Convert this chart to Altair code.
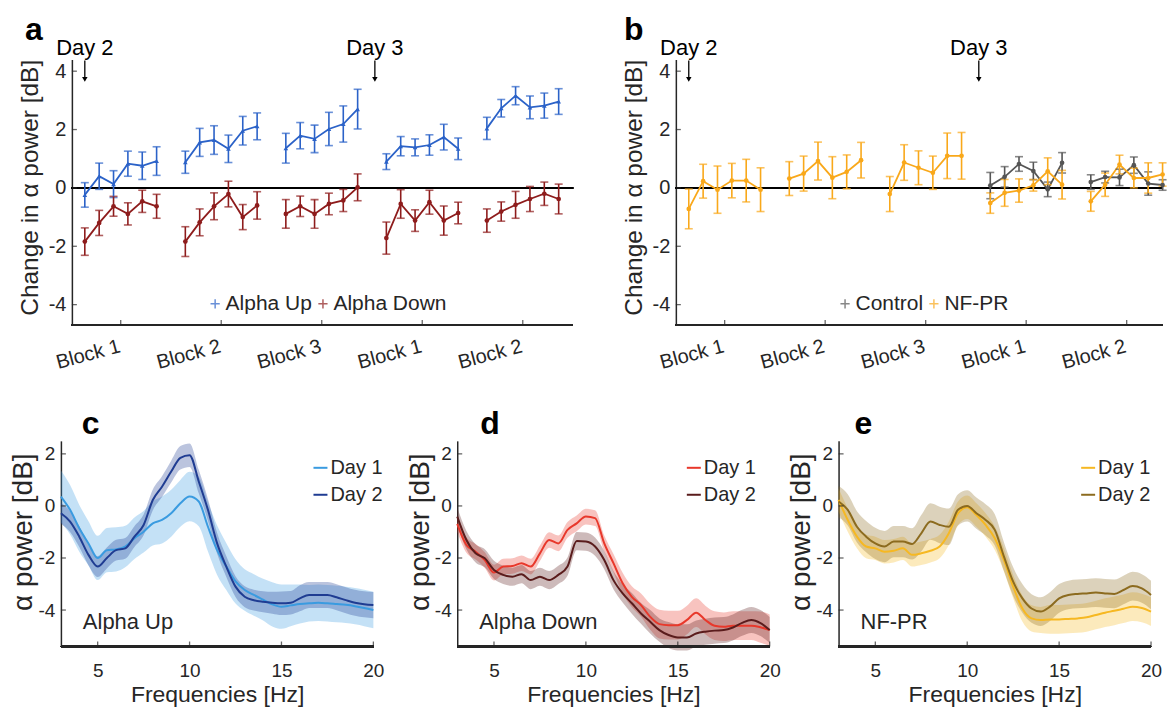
import json
import altair as alt
import pandas as pd

FONT = "Liberation Sans"
INK = "#262626"

# ---------------- panels a, b : change in alpha power per session ----------------
session_pos = [0, 1, 2, 3, 4, 5, 7, 8, 9, 10, 11, 12, 14, 15, 16, 17, 18, 19,
               21, 22, 23, 24, 25, 26, 28, 29, 30, 31, 32, 33]
session_block = (["d2b1"] * 6 + ["d2b2"] * 6 + ["d2b3"] * 6 + ["d3b1"] * 6 + ["d3b2"] * 6)
block_ticks = [2.5, 9.5, 16.5, 23.5, 30.5]
block_labels = ["Block 1", "Block 2", "Block 3", "Block 1", "Block 2"]
day_labels = ["Day 2", "Day 3"]
day_pos = [0, 20.2]

up_mean = [-0.24, 0.40, 0.13, 0.83, 0.76, 0.92, 0.88, 1.56, 1.64, 1.34, 1.96, 2.11,
           1.36, 1.79, 1.68, 2.02, 2.19, 2.70, 0.90, 1.43, 1.39, 1.47, 1.74, 1.34,
           2.04, 2.73, 3.16, 2.76, 2.82, 2.96]
up_err = [0.42, 0.45, 0.46, 0.43, 0.47, 0.49, 0.38, 0.48, 0.49, 0.47, 0.49, 0.46,
          0.51, 0.45, 0.47, 0.57, 0.62, 0.68, 0.27, 0.33, 0.29, 0.35, 0.44, 0.37,
          0.38, 0.30, 0.31, 0.39, 0.43, 0.44]
down_mean = [-1.84, -1.20, -0.63, -0.89, -0.46, -0.63, -1.84, -1.18, -0.63, -0.21, -1.00, -0.60,
             -0.89, -0.63, -0.89, -0.55, -0.43, 0.02, -1.72, -0.55, -1.12, -0.49, -1.12, -0.86,
             -1.12, -0.81, -0.58, -0.38, -0.20, -0.38]
down_err = [0.47, 0.43, 0.34, 0.38, 0.38, 0.41, 0.51, 0.46, 0.46, 0.44, 0.43, 0.47,
            0.49, 0.35, 0.49, 0.37, 0.38, 0.46, 0.55, 0.49, 0.37, 0.41, 0.50, 0.37,
            0.40, 0.33, 0.46, 0.43, 0.40, 0.51]
nf_mean = [-0.72, 0.23, -0.06, 0.25, 0.25, -0.06, 0.32, 0.49, 0.92, 0.35, 0.55, 0.95,
           -0.21, 0.87, 0.69, 0.52, 1.10, 1.10, -0.52, -0.17, -0.09, 0.09, 0.57, 0.11,
           -0.46, 0.11, 0.80, 0.34, 0.34, 0.46]
nf_err = [0.68, 0.58, 0.81, 0.59, 0.73, 0.75, 0.58, 0.60, 0.65, 0.72, 0.58, 0.61,
          0.60, 0.61, 0.58, 0.57, 0.78, 0.80, 0.35, 0.46, 0.40, 0.20, 0.46, 0.49,
          0.34, 0.40, 0.32, 0.34, 0.52, 0.40]
ctrl_mean = [0.08, 0.38, 0.82, 0.58, -0.05, 0.86, 0.20, 0.37, 0.36, 0.78, 0.15, 0.10]
ctrl_err = [0.45, 0.35, 0.25, 0.30, 0.25, 0.35, 0.25, 0.20, 0.28, 0.28, 0.40, 0.18]
ctrl_pos = session_pos[18:]
ctrl_block = session_block[18:]

# ---------------- panels c, d, e : alpha power spectra ----------------
freq = [3.0, 3.5, 4.0, 4.5, 5.0, 5.5, 6.0, 6.5, 7.0, 7.5, 8.0, 8.5, 9.0, 9.5, 10.0, 10.5,
        11.0, 11.5, 12.0, 12.5, 13.0, 13.5, 14.0, 14.5, 15.0, 15.5, 16.0, 16.5, 17.0, 17.5,
        18.0, 18.5, 19.0, 19.5, 20.0]

up_day1 = [0.36, -0.15, -0.86, -1.44, -2.00, -1.70, -1.67, -1.56, -1.24, -0.99, -0.67, -0.54,
           -0.28, 0.10, 0.36, 0.17, -0.80, -1.70, -2.33, -2.90, -3.23, -3.42, -3.60, -3.78,
           -3.87, -3.82, -3.77, -3.74, -3.72, -3.74, -3.77, -3.80, -3.85, -3.92, -4.00]
up_day1_err = [1.00, 0.95, 0.90, 0.85, 0.85, 0.85, 0.85, 0.80, 0.80, 0.80, 0.85, 0.90,
               0.90, 0.90, 0.95, 0.95, 0.95, 0.95, 0.90, 0.85, 0.80, 0.80, 0.80, 0.85,
               0.85, 0.80, 0.75, 0.70, 0.70, 0.70, 0.70, 0.70, 0.70, 0.70, 0.70]
up_day2 = [-0.28, -0.60, -1.18, -1.88, -2.33, -2.00, -1.70, -1.63, -1.18, -0.73, 0.23, 0.74,
           1.32, 1.85, 1.95, 0.94, -0.15, -1.44, -2.33, -3.10, -3.49, -3.62, -3.68, -3.72,
           -3.74, -3.72, -3.55, -3.42, -3.42, -3.42, -3.51, -3.62, -3.72, -3.78, -3.81]
up_day2_err = [0.40, 0.40, 0.40, 0.40, 0.40, 0.40, 0.40, 0.40, 0.40, 0.40, 0.40, 0.40,
               0.42, 0.45, 0.45, 0.45, 0.42, 0.40, 0.40, 0.40, 0.40, 0.40, 0.40, 0.42,
               0.45, 0.45, 0.50, 0.50, 0.50, 0.50, 0.50, 0.50, 0.50, 0.50, 0.50]

down_day1 = [-0.69, -1.50, -1.76, -2.08, -2.56, -2.33, -2.31, -2.20, -2.33, -1.82, -1.31, -1.44,
             -0.92, -0.67, -0.41, -0.47, -1.44, -2.20, -2.97, -3.49, -3.81, -4.26, -4.54, -4.58,
             -4.58, -4.38, -4.10, -4.38, -4.60, -4.64, -4.60, -4.60, -4.60, -4.66, -4.77]
down_day1_err = [0.30, 0.30, 0.30, 0.30, 0.30, 0.30, 0.30, 0.30, 0.30, 0.30, 0.30, 0.30,
                 0.30, 0.30, 0.30, 0.30, 0.30, 0.35, 0.40, 0.40, 0.45, 0.50, 0.55, 0.55,
                 0.55, 0.55, 0.55, 0.55, 0.55, 0.55, 0.55, 0.55, 0.55, 0.60, 0.60]
down_day2 = [-0.41, -1.31, -1.82, -2.01, -2.46, -2.65, -2.72, -2.62, -2.85, -2.72, -2.85, -2.65,
             -2.33, -1.35, -1.37, -1.56, -2.08, -2.85, -3.36, -3.74, -4.13, -4.45, -4.77, -4.96,
             -5.05, -5.05, -4.90, -4.83, -4.79, -4.77, -4.67, -4.49, -4.38, -4.50, -4.77]
down_day2_err = [0.35, 0.35, 0.35, 0.35, 0.35, 0.35, 0.35, 0.35, 0.35, 0.35, 0.35, 0.35,
                 0.35, 0.35, 0.35, 0.35, 0.35, 0.35, 0.35, 0.40, 0.40, 0.45, 0.45, 0.50,
                 0.50, 0.50, 0.50, 0.50, 0.50, 0.50, 0.50, 0.50, 0.50, 0.50, 0.50]

nf_day1 = [0.23, -0.54, -1.18, -1.56, -1.63, -1.76, -1.72, -1.63, -1.88, -1.82, -1.72, -1.56,
           -1.05, -0.28, -0.05, -0.35, -0.73, -1.24, -2.08, -3.10, -3.94, -4.32, -4.38, -4.36,
           -4.36, -4.34, -4.32, -4.28, -4.19, -4.10, -4.03, -3.95, -3.87, -3.92, -4.06]
nf_day1_err = [0.45, 0.45, 0.45, 0.45, 0.45, 0.45, 0.45, 0.45, 0.45, 0.45, 0.45, 0.45,
               0.45, 0.45, 0.45, 0.45, 0.45, 0.45, 0.45, 0.45, 0.50, 0.50, 0.50, 0.55,
               0.55, 0.55, 0.55, 0.55, 0.55, 0.55, 0.55, 0.55, 0.55, 0.55, 0.55]
nf_day2 = [0.17, -0.15, -0.80, -1.18, -1.44, -1.56, -1.37, -1.37, -1.46, -1.05, -0.60, -0.73,
           -0.80, -0.15, 0.00, -0.28, -0.54, -0.92, -1.95, -2.91, -3.55, -3.94, -4.06, -3.87,
           -3.55, -3.42, -3.38, -3.36, -3.33, -3.36, -3.38, -3.23, -3.08, -3.17, -3.42]
nf_day2_err = [0.60, 0.60, 0.60, 0.60, 0.60, 0.60, 0.60, 0.60, 0.60, 0.70, 0.70, 0.70,
               0.70, 0.60, 0.60, 0.60, 0.60, 0.60, 0.55, 0.55, 0.55, 0.55, 0.55, 0.55,
               0.55, 0.55, 0.55, 0.55, 0.55, 0.55, 0.55, 0.55, 0.55, 0.55, 0.55]

group_labels = ["Alpha Up", "Alpha Down", "NF-PR"]
day_names = ["Day 1", "Day 2"]


# ---------------- helpers ----------------
def session_rows(name, pos, block, mean, err):
    return pd.DataFrame({
        "series": [name] * len(pos), "pos": pos, "block": block, "mean": mean,
        "lo": [m - e for m, e in zip(mean, err)], "hi": [m + e for m, e in zip(mean, err)],
    })


block_expr = "{}[indexof({}, datum.value)]".format(json.dumps(block_labels), json.dumps(block_ticks))
num_expr = "'' + datum.value"
PX_SESSION = 502 / 34.9     # pixels per session step
PX_HZ = 313 / 17.0          # pixels per Hz


def session_panel(df, names, colors, shapes, width, x0, x1, letter, legend_x, letter_dx, lead=0):
    H = 266
    xs = alt.Scale(domain=[x0 - lead / PX_SESSION, x1], nice=False, zero=False)
    ys = alt.Scale(domain=[-4.7, 4.4], nice=False, zero=False)
    x_axis = alt.Axis(values=block_ticks, labelExpr=block_expr, title=None, labelAngle=345,
                      labelAlign="right", labelBaseline="top", labelPadding=11, labelOffset=-4,
                      labelFontSize=20, tickSize=0, labelOverlap=False, domain=False)
    y_axis = alt.Axis(values=[-4, -2, 0, 2, 4], labelExpr=num_expr, title="Change in α power [dB]",
                      titleX=-41, titleY=H / 2 - 5, titleAngle=270, titleAlign="center",
                      titleBaseline="middle", titleFontSize=24.5, labelFontSize=20, labelPadding=6,
                      tickSize=0, offset=-lead)
    X = alt.X("pos:Q", scale=xs, axis=x_axis)
    legend = alt.Legend(title=None, orient="none", legendX=legend_x + lead, legendY=234,
                        direction="horizontal", symbolType="M-1,0H1M0,-1V1", symbolSize=85,
                        symbolStrokeWidth=1.5, labelFontSize=21, labelColor=INK,
                        columnPadding=-6, labelOffset=0)
    C = alt.Color("series:N", scale=alt.Scale(domain=names, range=colors), legend=legend)
    Ym = alt.Y("mean:Q", scale=ys, axis=y_axis)
    base = alt.Chart(df)
    lines = base.mark_line(strokeWidth=1.8).encode(x=X, y=Ym, color=C, detail="block:N")
    bars = base.mark_errorbar(ticks={"size": 8, "thickness": 1.6}, thickness=1.6).encode(
        x=X, y=alt.Y("lo:Q", scale=ys, axis=y_axis), y2="hi:Q", color=C)
    pts = [base.transform_filter(alt.datum.series == nm).mark_point(
        shape=sh, filled=True, size=22, opacity=1).encode(x=X, y=Ym, color=C)
        for nm, sh in zip(names, shapes)]
    zero = alt.Chart(df).mark_rule(color="black", strokeWidth=2).encode(
        x=alt.XDatum(x0, type="quantitative", scale=xs, axis=x_axis),
        x2=alt.X2Datum(x1),
        y=alt.YDatum(0, type="quantitative", scale=ys, axis=y_axis))
    xline = alt.Chart(df).mark_rule(color=INK, strokeWidth=1.5).encode(
        x=alt.XDatum(x0, type="quantitative", scale=xs, axis=x_axis),
        x2=alt.X2Datum(x1), y=alt.value(H))
    days = alt.Chart(pd.DataFrame({"label": day_labels, "pos": day_pos}))
    arrow = days.mark_rule(color="black", strokeWidth=1.3).encode(
        x=X, y=alt.value(1), y2=alt.value(18))
    head = days.mark_point(shape="triangle-down", filled=True, size=30, color="black", opacity=1).encode(
        x=X, y=alt.value(20))
    text = days.mark_text(fontSize=22, font=FONT, color="black", baseline="alphabetic").encode(
        x=X, y=alt.value(-5), text="label:N")
    xt = alt.Chart(pd.DataFrame({"t": block_ticks})).mark_tick(color=INK, thickness=1.3, size=5).encode(
        x=alt.X("t:Q", scale=xs, axis=x_axis), y=alt.value(H - 2.5))
    yt = alt.Chart(pd.DataFrame({"t": [-4, -2, 0, 2, 4]})).mark_tick(color=INK, thickness=1.3, size=5).encode(
        y=alt.Y("t:Q", scale=ys, axis=y_axis), x=alt.value(lead + 2.5))
    return alt.layer(xline, zero, xt, yt, lines, bars, *pts, arrow, head, text).properties(
        width=width + lead, height=H,
        title=alt.TitleParams(letter, anchor="start", frame="group", dx=letter_dx + lead, dy=10,
                              fontSize=32, fontWeight="bold", color="black", font=FONT, offset=0))


def spectrum_panel(d1, e1, d2, e2, colors, letter, group_label, legend_x, letter_dx, lead=0):
    H = 206
    n = len(freq)
    df = pd.DataFrame({
        "freq": freq + freq, "val": d1 + d2,
        "lo": [v - e for v, e in zip(d1, e1)] + [v - e for v, e in zip(d2, e2)],
        "hi": [v + e for v, e in zip(d1, e1)] + [v + e for v, e in zip(d2, e2)],
        "day": [day_names[0]] * n + [day_names[1]] * n,
        "band": ["band " + day_names[0]] * n + ["band " + day_names[1]] * n,
    })
    xs = alt.Scale(domain=[3 - lead / PX_HZ, 20], nice=False, zero=False)
    ys = alt.Scale(domain=[-5.4, 2.5], nice=False, zero=False)
    x_axis = alt.Axis(values=[5, 10, 15, 20], labelExpr=num_expr, title="Frequencies [Hz]",
                      titleX=lead + 313 / 2, titleY=55, titleBaseline="alphabetic",
                      titleFontSize=23, labelFontSize=19, labelPadding=15, tickSize=0,
                      labelFlush=False, domain=False)
    y_axis = alt.Axis(values=[-4, -2, 0, 2], labelExpr=num_expr, title="α power [dB]",
                      titleX=-37, titleY=H / 2 - 12, titleAngle=270, titleAlign="center",
                      titleBaseline="middle", titleFontSize=28, labelFontSize=19, labelPadding=6,
                      tickSize=0, offset=-lead)
    X = alt.X("freq:Q", scale=xs, axis=x_axis)
    legend = alt.Legend(title=None, orient="none", legendX=legend_x + lead, legendY=17,
                        symbolType="stroke", symbolSize=196, symbolStrokeWidth=2,
                        labelFontSize=20, labelColor=INK, rowPadding=7, labelOffset=0)
    base = alt.Chart(df)
    band = base.mark_area(fillOpacity=0.3, interpolate="monotone").encode(
        x=X, y=alt.Y("lo:Q", scale=ys, axis=y_axis), y2="hi:Q",
        fill=alt.Fill("band:N", scale=alt.Scale(domain=["band " + d for d in day_names], range=colors),
                      legend=None))
    line = base.mark_line(strokeWidth=2, interpolate="monotone").encode(
        x=X, y=alt.Y("val:Q", scale=ys, axis=y_axis),
        color=alt.Color("day:N", scale=alt.Scale(domain=day_names, range=colors), legend=legend))
    xline = base.mark_rule(color=INK, strokeWidth=1.5).encode(
        x=alt.XDatum(3, type="quantitative", scale=xs, axis=x_axis),
        x2=alt.X2Datum(20), y=alt.value(H))
    label = alt.Chart(pd.DataFrame({"g": [group_label]})).mark_text(
        fontSize=22, font=FONT, color=INK, align="left", baseline="alphabetic").encode(
        text="g:N", x=alt.value(lead + 22), y=alt.value(188))
    xt = alt.Chart(pd.DataFrame({"t": [5, 10, 15, 20]})).mark_tick(color=INK, thickness=1.3, size=5).encode(
        x=alt.X("t:Q", scale=xs, axis=x_axis), y=alt.value(H - 2.5))
    yt = alt.Chart(pd.DataFrame({"t": [-4, -2, 0, 2]})).mark_tick(color=INK, thickness=1.3, size=5).encode(
        y=alt.Y("t:Q", scale=ys, axis=y_axis), x=alt.value(lead + 2.5))
    return alt.layer(band, line, xline, xt, yt, label).properties(
        width=313 + lead, height=H,
        title=alt.TitleParams(letter, anchor="start", frame="group", dx=letter_dx + lead, dy=0,
                              fontSize=32, fontWeight="bold", color="black", font=FONT, offset=0))


df_a = pd.concat([session_rows("Alpha Up", session_pos, session_block, up_mean, up_err),
                  session_rows("Alpha Down", session_pos, session_block, down_mean, down_err)])
df_b = pd.concat([session_rows("Control", ctrl_pos, ctrl_block, ctrl_mean, ctrl_err),
                  session_rows("NF-PR", session_pos, session_block, nf_mean, nf_err)])

panel_a = session_panel(df_a, ["Alpha Up", "Alpha Down"], ["#2b62c8", "#8e1c1c"],
                        ["triangle-up", "circle"], 502, -0.9, 34.0, "a", 133, -47, lead=11)
panel_b = session_panel(df_b, ["Control", "NF-PR"], ["#555555", "#f9a81a"],
                        ["circle", "circle"], 488, -0.9, 33.03, "b", 159, -52)
panel_c = spectrum_panel(up_day1, up_day1_err, up_day2, up_day2_err, ["#3a9be0", "#1f3c92"],
                         "c", group_labels[0], 250, 21)
panel_d = spectrum_panel(down_day1, down_day1_err, down_day2, down_day2_err, ["#e8382b", "#5a1c1c"],
                         "d", group_labels[1], 227, 23, lead=15)
panel_e = spectrum_panel(nf_day1, nf_day1_err, nf_day2, nf_day2_err, ["#f6b822", "#8c6b1f"],
                         "e", group_labels[2], 240, 16)

indep = dict(color="independent", fill="independent")
top = alt.hconcat(panel_a, panel_b, spacing=103, bounds="flush").resolve_scale(**indep).resolve_legend(
    color="independent")
bottom = alt.hconcat(panel_c, panel_d, panel_e, spacing=69, bounds="flush").resolve_scale(
    **indep).resolve_legend(color="independent")

chart = alt.vconcat(top, bottom, spacing=35).resolve_scale(**indep).resolve_legend(
    color="independent"
).properties(padding={"left": 1, "top": 5, "right": 0, "bottom": 0}).configure_view(
    stroke=None
).configure_axis(
    domainColor=INK, domainWidth=1.5, labelColor=INK, titleColor=INK, grid=False,
    labelFont=FONT, titleFont=FONT, titleFontWeight="normal"
).configure_legend(labelFont=FONT).configure_title(font=FONT)

chart.save("out.html", embed_options={"renderer": "svg", "actions": False})
